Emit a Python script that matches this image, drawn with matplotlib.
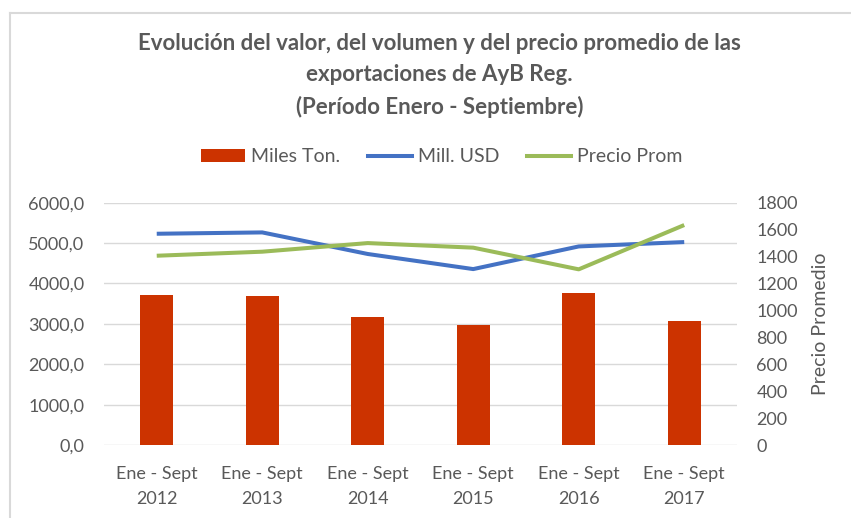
import matplotlib
matplotlib.use("Agg")
import matplotlib.pyplot as plt
from matplotlib.ticker import FuncFormatter
from matplotlib.patches import Patch
from matplotlib.lines import Line2D

# datos
periodos = ["Ene - Sept\n2012", "Ene - Sept\n2013", "Ene - Sept\n2014",
            "Ene - Sept\n2015", "Ene - Sept\n2016", "Ene - Sept\n2017"]
miles_ton = [3705, 3680, 3168, 2970, 3754, 3078]
mill_usd = [5231, 5264, 4730, 4356, 4917, 5025]
precio_prom = [1406, 1436, 1500, 1466, 1305, 1634]

gris = '#595959'
rojo = '#CC3300'
azul = '#4472C4'
verde = '#9BBB59'

plt.rcParams['font.family'] = ['Lato', 'DejaVu Sans']

fig = plt.figure(figsize=(8.51, 5.18), dpi=100)
ax1 = fig.add_axes([0.1222, 0.1409, 0.7438, 0.4678])
ax2 = ax1.twinx()

x = list(range(len(periodos)))
ax1.bar(x, miles_ton, width=0.31, color=rojo, zorder=2)
ax1.plot(x, mill_usd, color=azul, lw=2.9, solid_capstyle='butt', zorder=3)
ax2.plot(x, precio_prom, color=verde, lw=2.9, solid_capstyle='butt', zorder=3)

ax1.set_xlim(-0.5, len(periodos) - 0.5)
ax1.set_ylim(0, 6000)
ax1.set_yticks(range(0, 6001, 1000))
ax1.yaxis.set_major_formatter(FuncFormatter(lambda v, p: "{:.1f}".format(v).replace('.', ',')))
ax2.set_ylim(0, 1800)
ax2.set_yticks(range(0, 1801, 200))

ax1.set_xticks(x)
ax1.set_xticklabels(periodos, fontsize=13, color=gris, linespacing=1.7)
ax1.grid(axis='y', color='#D9D9D9', lw=1, zorder=0)
ax1.set_axisbelow(True)

for ax in (ax1, ax2):
    for s in ax.spines.values():
        s.set_visible(False)
    ax.tick_params(length=0, labelsize=13, labelcolor=gris)
ax1.tick_params(axis='y', pad=14)
ax1.tick_params(axis='x', pad=15)
ax2.tick_params(axis='y', pad=14)

ax2.set_ylabel("Precio Promedio", fontsize=14, color=gris, labelpad=10)

# titulo
fig.text(0.5165, 0.855, "Evolución del valor, del volumen y del precio promedio de las\n"
         "exportaciones de AyB Reg.\n(Período Enero - Septiembre)",
         ha='center', va='center', fontsize=16, fontweight='bold', color=gris,
         linespacing=1.6)

# leyenda
handles = [Patch(facecolor=rojo, edgecolor='none'),
           Line2D([0], [0], color=azul, lw=2.9),
           Line2D([0], [0], color=verde, lw=2.9)]
fig.legend(handles, ["Miles Ton.", "Mill. USD", "Precio Prom"], ncol=3,
           loc='center', bbox_to_anchor=(0.519, 0.697), frameon=False,
           fontsize=14, labelcolor=gris, handlelength=2.3, handletextpad=0.3,
           columnspacing=1.4, handleheight=0.7)

# borde del area del grafico
fig.add_artist(Line2D([10 / 851, 10 / 851], [0, 1 - 13 / 518], color='#D9D9D9', lw=1.5))
fig.add_artist(Line2D([10 / 851, 1], [1 - 13 / 518, 1 - 13 / 518], color='#D9D9D9', lw=1.5))

fig.savefig("out.png", dpi=100)
